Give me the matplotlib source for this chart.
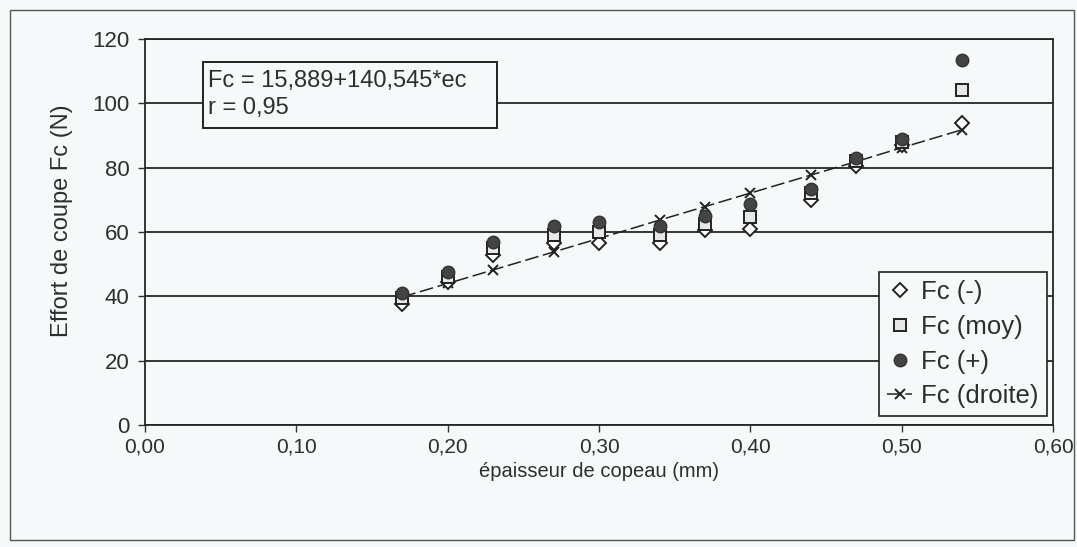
import matplotlib
matplotlib.use("Agg")
import matplotlib.pyplot as plt
from matplotlib.patches import Rectangle

plt.rcParams['font.family'] = ['Liberation Sans', 'DejaVu Sans']

# Data
ec = [0.17, 0.20, 0.23, 0.27, 0.30, 0.34, 0.37, 0.40, 0.44, 0.47, 0.50, 0.54]
fc_minus = [37.5, 44.5, 53.0, 56.5, 56.5, 56.5, 60.5, 61.0, 70.0, 80.5, 87.0, 94.0]
fc_moy = [39.5, 46.0, 55.0, 59.0, 60.0, 59.0, 62.5, 64.8, 72.0, 82.0, 88.0, 104.0]
fc_plus = [41.0, 47.5, 57.0, 62.0, 63.0, 62.0, 65.0, 68.8, 73.5, 83.0, 89.0, 113.5]
fc_droite = [39.8, 44.0, 48.2, 53.8, 58.0, 63.7, 67.9, 72.1, 77.7, 81.9, 86.2, 91.8]

xticks = [0.0, 0.1, 0.2, 0.3, 0.4, 0.5, 0.6]
xticklabels = ["0,00", "0,10", "0,20", "0,30", "0,40", "0,50", "0,60"]
yticks = [0, 20, 40, 60, 80, 100, 120]

equation_text = "Fc = 15,889+140,545*ec\nr = 0,95"

bg = '#f6f9fa'
txt = '#2e2e2e'
fig = plt.figure(figsize=(10.77, 5.47), dpi=100, facecolor=bg)
ax = fig.add_axes([145/1077, 1 - 425/547, (1053 - 145)/1077, (425 - 39)/547])
ax.set_facecolor(bg)

# outer frame
fig.patches.append(Rectangle((10/1077, 1 - 540/547), 1064/1077, 530/547,
                             transform=fig.transFigure, fill=False,
                             edgecolor='#555555', linewidth=1.0))

ax.set_xlim(0, 0.6)
ax.set_ylim(0, 120)
ax.set_xticks(xticks)
ax.set_xticklabels(xticklabels)
ax.set_yticks(yticks)
ax.yaxis.grid(True, color='#262626', linewidth=1.3)
ax.set_axisbelow(True)
for s in ax.spines.values():
    s.set_color('#262626')
    s.set_linewidth(1.3)
ax.tick_params(direction='out', length=5, width=1, colors='#333333',
               labelcolor=txt)
ax.tick_params(axis='x', pad=4, labelsize=15)
ax.tick_params(axis='y', pad=6, labelsize=16)

ax.plot(ec, fc_droite, color='#222222', linewidth=1.1, dashes=(9, 3),
        marker='x', markersize=7, markeredgewidth=1.4, label='Fc (droite)', zorder=3)
ax.plot(ec, fc_minus, linestyle='none', marker='D', markersize=7,
        markerfacecolor='white', markeredgecolor='#222222', markeredgewidth=1.4,
        label='Fc (-)', zorder=4)
ax.plot(ec, fc_moy, linestyle='none', marker='s', markersize=8,
        markerfacecolor='#e8e8e8', markeredgecolor='#222222', markeredgewidth=1.4,
        label='Fc (moy)', zorder=5)
ax.plot(ec, fc_plus, linestyle='none', marker='o', markersize=9,
        markerfacecolor='#444444', markeredgecolor='#333333', markeredgewidth=1.0,
        label='Fc (+)', zorder=6)

ax.set_xlabel("épaisseur de copeau (mm)", fontsize=14.5, color=txt)
ax.set_ylabel("Effort de coupe Fc (N)", fontsize=17, color=txt)
ax.xaxis.set_label_coords(0.5, -0.097)
ax.yaxis.set_label_coords(-0.079, 0.53)

# equation box
x0 = (203 - 145) / 908
x1 = (497 - 145) / 908
y0 = (425 - 128) / 386
y1 = (425 - 62) / 386
ax.add_patch(Rectangle((x0, y0), x1 - x0, y1 - y0, transform=ax.transAxes,
                       facecolor=bg, edgecolor='#222222', linewidth=1.4, zorder=7))
ax.text(x0 + 0.005, y1 - 0.022, equation_text, transform=ax.transAxes,
        fontsize=17, color=txt, va='top', ha='left', linespacing=1.25, zorder=8)

handles, labels = ax.get_legend_handles_labels()
order = [1, 2, 3, 0]
leg = ax.legend([handles[i] for i in order], [labels[i] for i in order],
                loc='lower right', bbox_to_anchor=(0.993, 0.023),
                borderaxespad=0, fancybox=False, framealpha=1, facecolor=bg,
                edgecolor='#222222', fontsize=18.5, labelspacing=0.42,
                handlelength=1.0, handletextpad=0.35, borderpad=0.3)
leg.get_frame().set_linewidth(1.2)
for t in leg.get_texts():
    t.set_color(txt)

fig.savefig('out.png', dpi=100, facecolor=bg)
